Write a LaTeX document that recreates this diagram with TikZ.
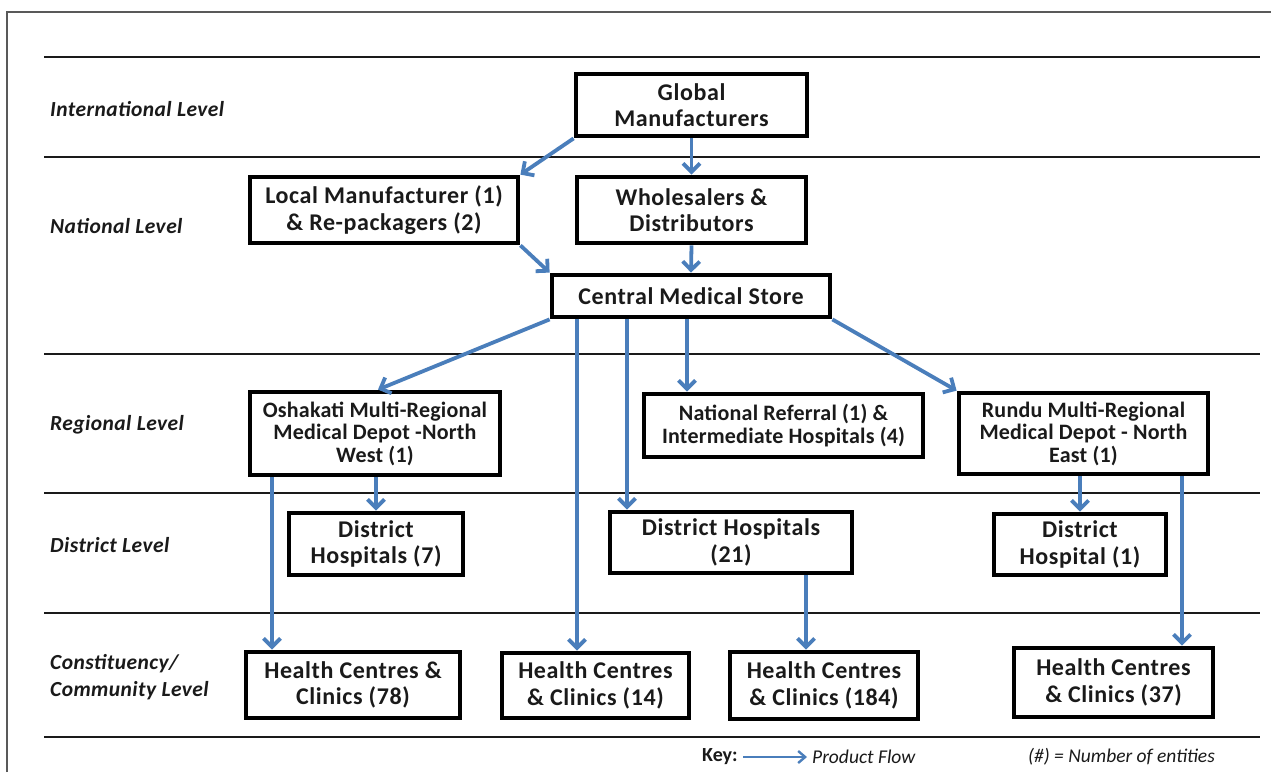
\documentclass[tikz,border=0pt]{standalone}
\usepackage{fontspec}
\setmainfont{Carlito}
\usetikzlibrary{arrows.meta,calc}
\definecolor{flowblue}{HTML}{4A7EBB}
\definecolor{ink}{HTML}{1A1A1A}
\begin{document}
\begin{tikzpicture}[x=1pt,y=-1pt,
  box/.style={draw=black, line width=4.8pt, fill=white, align=center,
    font=\bfseries\fontsize{24}{26.5}\selectfont\addfontfeature{LetterSpace=2.5},
    text=ink, inner sep=0pt},
  smallbox/.style={box,
    font=\bfseries\fontsize{22}{22.5}\selectfont\addfontfeature{LetterSpace=1}},
  level/.style={anchor=west, align=left, inner sep=0pt,
    font=\bfseries\itshape\fontsize{21.5}{27}\selectfont\addfontfeature{LetterSpace=2},
    text=ink},
  flow/.style={draw=flowblue, line width=3.8pt,
    -{Straight Barb[length=8.5pt,width=17pt]}},
  rule/.style={draw=ink, line width=1.4pt},
  keytext/.style={anchor=west, inner sep=0pt, text=ink,
    font=\itshape\fontsize{19.5}{22}\selectfont},
]
% page and frame
\fill[white] (0,0) rectangle (1271,772);
\useasboundingbox (0,0) rectangle (1271,772);
\draw[draw=black!65, line width=1.4pt] (7,772) -- (7,12) -- (1271,12);

% level separators
\foreach \yy in {57,157,354,493,613,737}
  \draw[rule] (44,\yy) -- (1260,\yy);

% level labels
\node[level] (lintl) at (50,109) {International Level};
\node[level] (lnat)  at (50,226) {National Level};
\node[level] (lreg)  at (50,425) {Regional Level};
\node[level] (ldist) at (50,545) {District Level};
\node[level] (lcom)  at (50,677) {Constituency/\\Community Level};

% international and national level
\node[box, minimum width=231pt, minimum height=62pt] (glob) at (691.5,105) {Global\\Manufacturers};
\node[box, minimum width=268pt, minimum height=66pt] (local) at (384,210) {Local Manufacturer (1)\\\& Re-packagers (2)};
\node[box, minimum width=229pt, minimum height=66pt] (whole) at (691.5,210) {Wholesalers \&\\Distributors};
\node[box, minimum width=278pt, minimum height=42pt] (cms) at (691,296) {Central Medical Store};

% regional level
\node[smallbox, minimum width=250pt, minimum height=83pt] (osh) at (375,433.5) {Oshakati Multi-Regional\\Medical Depot -North\\West (1)};
\node[smallbox, minimum width=279pt, minimum height=63pt] (natref) at (783.5,425.5) {National Referral (1) \&\\Intermediate Hospitals (4)};
\node[smallbox, minimum width=249pt, minimum height=81pt] (rundu) at (1083.5,433.5) {Rundu Multi-Regional\\Medical Depot - North\\East (1)};

% district level
\node[box, minimum width=174pt, minimum height=62pt] (dh7) at (376,544) {District\\Hospitals (7)};
\node[box, minimum width=242pt, minimum height=61pt] (dh21) at (731,542.5) {District Hospitals\\(21)};
\node[box, minimum width=172pt, minimum height=61pt] (dh1) at (1080,544.5) {District\\Hospital (1)};

% constituency / community level
\node[box, minimum width=214pt, minimum height=66pt] (hc78) at (353,685) {Health Centres \&\\Clinics (78)};
\node[box, minimum width=187pt, minimum height=65pt] (hc14) at (595.5,685.5) {Health Centres\\\& Clinics (14)};
\node[box, minimum width=188pt, minimum height=67pt] (hc184) at (824,685.5) {Health Centres\\\& Clinics (184)};
\node[box, minimum width=199pt, minimum height=69pt] (hc37) at (1113.5,682.5) {Health Centres\\\& Clinics (37)};

% entry points of the vertical flows
\coordinate (t14)  at ([xshift=-18.5pt]hc14.north);
\coordinate (t21)  at ([xshift=-104pt]dh21.north);
\coordinate (tnr)  at ([xshift=-96.5pt]natref.north);
\coordinate (t78)  at ([xshift=-81pt]hc78.north);
\coordinate (t184) at ([xshift=-18pt]hc184.north);
\coordinate (t37)  at ([xshift=68.5pt]hc37.north);

% product flows
\draw[flow] (glob.south west) -- (local.north east);
\draw[flow] (glob.south) -- (whole.north);
\draw[flow] (local.south east) -- (cms.north west);
\draw[flow] (whole.south) -- (cms.north);
\draw[flow] (cms.south west) -- ([xshift=3pt]osh.north);
\draw[flow] (cms.south -| t14) -- (t14);
\draw[flow] (cms.south -| t21) -- (t21);
\draw[flow] (cms.south -| tnr) -- (tnr);
\draw[flow] (cms.south east) -- (rundu.north west);
\draw[flow] (osh.south -| t78) -- (t78);
\draw[flow] (osh.south -| dh7.north) -- (dh7.north);
\draw[flow] (rundu.south -| dh1.north) -- (dh1.north);
\draw[flow] (rundu.south -| t37) -- (t37);
\draw[flow] (dh21.south -| t184) -- (t184);

% key
\node[anchor=west, inner sep=0pt, text=ink, font=\bfseries\fontsize{20}{22}\selectfont] (key) at (702,757) {Key:};
\coordinate (ka) at (743,757);
\coordinate (kb) at (807,757);
\draw[draw=flowblue, line width=2.4pt, -{Straight Barb[length=7pt,width=12pt]}] (ka) -- (kb);
\node[keytext] (kflow) at (812,757) {Product Flow};
\node[keytext] (kent) at (1028,757) {(\#) = Number of entities};
\end{tikzpicture}
\end{document}
